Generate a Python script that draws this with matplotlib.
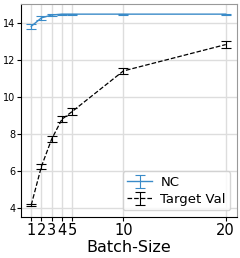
import matplotlib
matplotlib.use("Agg")
import matplotlib.pyplot as plt

batch_sizes = [1, 2, 3, 4, 5, 10, 20]
nc_mean = [13.84, 14.3, 14.45, 14.5, 14.5, 14.5, 14.5]
nc_err = [0.13, 0.1, 0.05, 0.03, 0.03, 0.03, 0.03]
val_mean = [4.15, 6.25, 7.73, 8.8, 9.22, 11.42, 12.85]
val_err = [0.08, 0.15, 0.15, 0.15, 0.18, 0.18, 0.2]
yticks = [4, 6, 8, 10, 12, 14]

fig = plt.figure(figsize=(2.40, 2.58), dpi=100)
ax = fig.add_axes([21/240, 1-217/258, (237-21)/240, (217-4)/258])

ax.errorbar(batch_sizes, nc_mean, yerr=nc_err, color='#3a8bc8', lw=1.0,
            capsize=3.5, elinewidth=0.8, capthick=0.8, label='NC')
ax.errorbar(batch_sizes, val_mean, yerr=val_err, color='black', lw=0.9, ls='--',
            capsize=3.5, elinewidth=0.8, capthick=0.8, label='Target Val')

ax.set_xticks(batch_sizes)
ax.set_xticklabels([str(b) for b in batch_sizes], fontsize=10.5)
ax.set_yticks(yticks)
ax.set_yticklabels([str(t) for t in yticks], fontsize=7)
ax.set_ylim(3.5, 15.05)
ax.set_xlim(0.0, 21.1)
ax.grid(True, color='#dddddd', lw=1.0)
ax.set_axisbelow(True)
ax.set_xlabel('Batch-Size', fontsize=11.5, labelpad=2)
ax.tick_params(axis='both', length=3, pad=1)
ax.spines['right'].set_color('#999999')
ax.spines['top'].set_color('#999999')
ax.legend(loc='lower right', fontsize=9.5, handlelength=1.9, borderpad=0.35,
          labelspacing=0.3, handletextpad=0.6)

fig.savefig('out.png', dpi=100)
